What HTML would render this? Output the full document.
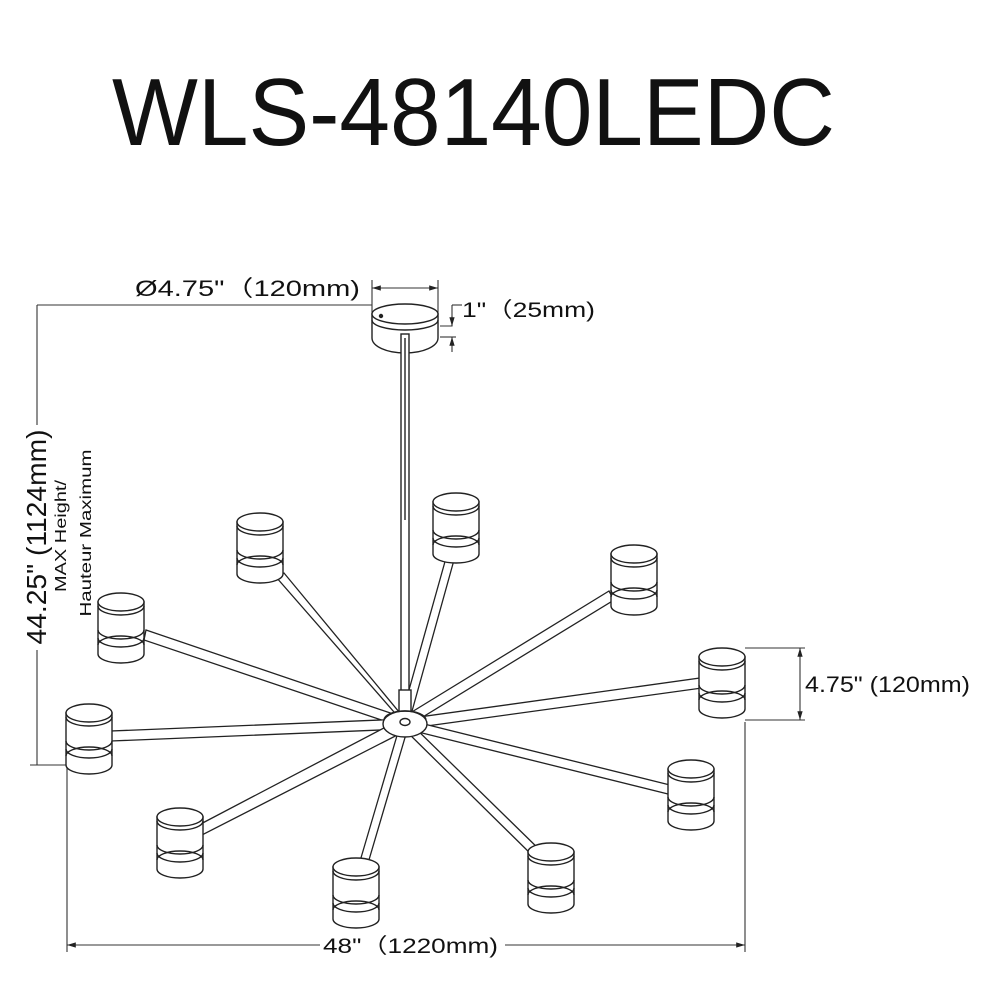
<!DOCTYPE html>
<html><head><meta charset="utf-8"><style>
html,body{margin:0;padding:0;background:#fff;}
svg{display:block;}
text{font-family:"Liberation Sans",sans-serif;fill:#111;}
</style></head><body>
<svg width="1000" height="1000" viewBox="0 0 1000 1000" xmlns="http://www.w3.org/2000/svg">
<defs>
<g id="lamp" fill="#fff" stroke="#222" stroke-width="1.4">
  <path d="M-23,9 L-23,61 A23,9 0 0 0 23,61 L23,9 Z"/>
  <ellipse cx="0" cy="9" rx="23" ry="9"/>
  <path d="M-23,13 A23,9 0 0 0 23,13" fill="none"/>
  <path d="M-23,37 A23,9 0 0 0 23,37" fill="none"/>
  <path d="M-23,45 A23,9 0 0 0 23,45" fill="none"/>
  <path d="M-23,52 A23,9 0 0 1 23,52" fill="none"/>
</g>
<marker id="ar" viewBox="0 0 10 10" refX="10" refY="5" markerWidth="8" markerHeight="8" orient="auto-start-reverse"><path d="M0,2 L10,5 L0,8" fill="#222"/></marker>
</defs>

<text x="112" y="145" font-size="96" textLength="723" lengthAdjust="spacingAndGlyphs">WLS-48140LEDC</text>

<g stroke="#333" stroke-width="1.1" fill="none">
  <line x1="37" y1="305" x2="372" y2="305"/>
  <line x1="37" y1="305" x2="37" y2="425"/>
  <line x1="37" y1="650" x2="37" y2="765"/>
  <line x1="30" y1="765" x2="70" y2="765"/>
  <line x1="372" y1="280" x2="372" y2="330"/>
  <line x1="438" y1="280" x2="438" y2="330"/>
  <line x1="372" y1="288" x2="438" y2="288" marker-start="url(#ar)" marker-end="url(#ar)"/>
  <polyline points="440,326 452,326 452,320"/>
  <line x1="452" y1="305" x2="452" y2="320"/>
  <line x1="440" y1="337" x2="456" y2="337"/>
  <line x1="452" y1="352" x2="452" y2="337" marker-end="url(#ar)"/>
  <line x1="452" y1="305" x2="462" y2="305"/>
  <line x1="452" y1="316" x2="452" y2="326" marker-end="url(#ar)"/>
  <line x1="745" y1="648" x2="805" y2="648"/>
  <line x1="745" y1="720" x2="805" y2="720"/>
  <line x1="800" y1="648" x2="800" y2="720" marker-start="url(#ar)" marker-end="url(#ar)"/>
  <line x1="67" y1="765" x2="67" y2="952"/>
  <line x1="745" y1="722" x2="745" y2="952"/>
  <line x1="67" y1="945" x2="320" y2="945" marker-start="url(#ar)"/>
  <line x1="505" y1="945" x2="745" y2="945" marker-end="url(#ar)"/>
</g>
<text x="135" y="296" font-size="22" textLength="225" lengthAdjust="spacingAndGlyphs">Ø4.75"（120mm)</text>
<text x="462" y="317" font-size="21" textLength="133" lengthAdjust="spacingAndGlyphs">1"（25mm)</text>
<text x="805" y="692" font-size="22" textLength="165" lengthAdjust="spacingAndGlyphs">4.75" (120mm)</text>
<text x="323" y="953" font-size="21" textLength="175" lengthAdjust="spacingAndGlyphs">48"（1220mm)</text>
<text transform="translate(46,537) rotate(-90)" text-anchor="middle" font-size="28" textLength="215" lengthAdjust="spacingAndGlyphs">44.25" (1124mm)</text>
<text transform="translate(66,536) rotate(-90)" text-anchor="middle" font-size="16" textLength="112" lengthAdjust="spacingAndGlyphs">MAX Height/</text>
<text transform="translate(91,533) rotate(-90)" text-anchor="middle" font-size="16" textLength="167" lengthAdjust="spacingAndGlyphs">Hauteur Maximum</text>

<g fill="#fff" stroke="#222" stroke-width="1.4">
  <path d="M372,314 L372,338 A33,15 0 0 0 438,338 L438,314 Z"/>
  <ellipse cx="405" cy="314" rx="33" ry="10"/>
  <path d="M372,320 A33,10 0 0 0 438,320" fill="none"/>
  <circle cx="381" cy="316" r="1.5" fill="#222"/>
  <rect x="401" y="334" width="8" height="380"/>
  <line x1="405" y1="338" x2="405" y2="520"/>
</g>

<g fill="#fff" stroke="#222" stroke-width="1.3">
  <polygon points="401,720 409,724 284,573 276,577"/>
  <polygon points="400,722 409,722 454,560 446,558"/>
  <polygon points="402,718 408,726 614,600 609,591"/>
  <polygon points="405,718 405,728 144,640 146,630"/>
  <polygon points="405,719 405,729 702,688 700,678"/>
  <polygon points="405,719 405,729 111,741 111,731"/>
  <polygon points="404,719 406,729 672,795 670,785"/>
  <polygon points="401,719 409,729 202,835 195,827"/>
  <polygon points="401,722 409,724 366,870 358,868"/>
  <polygon points="402,727 408,721 545,855 538,861"/>
</g>
<g fill="#fff" stroke="#222" stroke-width="1.4">
  <rect x="399" y="690" width="12" height="24"/>
  <ellipse cx="405" cy="724" rx="22" ry="13"/>
  <path d="M384,720 A21,9 0 0 1 426,720" fill="none"/>
  <ellipse cx="405" cy="722" rx="5" ry="3.5"/>
</g>

<use href="#lamp" transform="translate(260,513)"/>
<use href="#lamp" transform="translate(456,493)"/>
<use href="#lamp" transform="translate(634,545)"/>
<use href="#lamp" transform="translate(121,593)"/>
<use href="#lamp" transform="translate(722,648)"/>
<use href="#lamp" transform="translate(89,704)"/>
<use href="#lamp" transform="translate(691,760)"/>
<use href="#lamp" transform="translate(180,808)"/>
<use href="#lamp" transform="translate(356,858)"/>
<use href="#lamp" transform="translate(551,843)"/>
</svg>
</body></html>
